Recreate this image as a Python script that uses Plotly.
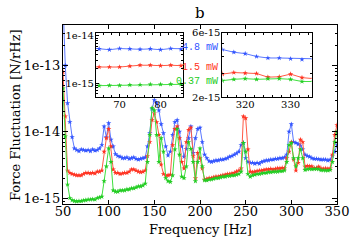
import plotly.graph_objects as go

# frequency grid [Hz]
freq = [50, 52.5, 55, 57.5, 60, 62.5, 65, 67.5, 70, 72.5, 75, 77.5, 80, 82.5, 85, 87.5, 90, 92.5,
        95, 97.5, 100, 102.5, 105, 107.5, 110, 112.5, 115, 117.5, 120, 122.5, 125, 127.5, 130, 132.5,
        135, 137.5, 140, 142.5, 145, 147.5, 150, 152.5, 155, 157.5, 160, 162.5, 165, 167.5, 170, 172.5,
        175, 177.5, 180, 182.5, 185, 187.5, 190, 192.5, 195, 197.5, 200, 202.5, 205, 207.5, 210, 212.5,
        215, 217.5, 220, 222.5, 225, 227.5, 230, 232.5, 235, 237.5, 240, 242.5, 245, 247.5, 250, 252.5,
        255, 257.5, 260, 262.5, 265, 267.5, 270, 272.5, 275, 277.5, 280, 282.5, 285, 287.5, 290, 292.5,
        295, 297.5, 300, 302.5, 305, 307.5, 310, 312.5, 315, 317.5, 320, 322.5, 325, 327.5, 330, 332.5,
        335, 337.5, 340, 342.5, 345, 347.5, 350]

# force fluctuation in units of 1e-15 N/rHz
p_4_8mW = [900, 100, 27, 14, 8.3, 5.6, 5.3, 5.1, 5.4, 5.3, 5.2, 5.3, 5.1, 5.4, 5.2, 5.3, 5.6, 6.3,
           12, 8.3, 13.5, 7.6, 6.0, 4.6, 4.3, 4.2, 4.0, 4.0, 4.1, 3.9, 4.0, 4.1, 3.9, 3.8,
           3.9, 4.0, 4.1, 6.0, 9.5, 22, 30, 27, 21, 13, 9.5, 6.0, 4.4, 5.0, 9.0, 14,
           15, 10, 6.0, 4.2, 5.5, 8.0, 12, 4.8, 8.0, 11, 11.5, 7.0, 4.5, 4.0, 3.6, 3.5,
           3.6, 3.7, 3.7, 3.8, 3.8, 3.9, 4.0, 4.2, 4.3, 4.5, 4.7, 5.0, 6.3, 6.8, 4.0, 3.5,
           3.4, 3.4, 3.3, 3.4, 3.3, 3.5, 3.6, 3.7, 3.7, 3.8, 3.8, 3.9, 3.9, 4.0, 4.0, 4.1,
           4.5, 10, 13, 7.0, 6.8, 6.5, 6.2, 5.4, 4.5, 4.3, 4.2, 4.0, 3.9, 3.9, 3.85, 3.8,
           3.8, 3.8, 3.7, 3.8, 4.3, 5.0, 6.3]

p_1_5mW = [80, 17, 2.6, 2.4, 2.3, 2.25, 2.2, 2.2, 2.2, 2.3, 2.4, 2.4, 2.35, 2.4, 2.35, 2.5, 2.5, 2.6,
           5.0, 8.0, 11, 6.0, 2.7, 2.4, 2.4, 2.3, 2.35, 2.4, 2.4, 2.5, 2.7, 2.7, 2.6, 2.5,
           2.45, 2.5, 2.6, 4.3, 7.0, 15, 19, 14, 9.0, 3.2, 2.3, 2.2, 2.2, 2.25, 6.3, 11,
           12, 8.0, 3.5, 2.8, 7.0, 10.7, 11.5, 4.3, 2.0, 4.8, 4.0, 2.8, 1.9, 1.95, 2.0, 2.0,
           2.05, 2.1, 2.1, 2.15, 2.2, 2.25, 2.3, 2.3, 2.35, 2.4, 2.5, 2.6, 2.8, 17, 16, 5.4,
           2.5, 2.45, 2.5, 2.55, 2.6, 2.6, 2.65, 2.7, 2.7, 2.75, 2.7, 2.75, 2.8, 2.8, 2.85, 2.8,
           4.0, 5.0, 7.0, 3.8, 2.6, 3.4, 7.6, 7.0, 2.97, 3.05, 3.02, 3.0, 2.82, 2.84, 2.97, 2.8,
           2.75, 2.8, 2.75, 2.8, 4.5, 9.0, 12.6]

p_0_37mW = [45, 8.5, 1.6, 1.0, 0.93, 0.9, 0.89, 0.9, 0.9, 0.92, 0.93, 0.95, 0.95, 0.96, 0.95, 1.0, 1.02, 1.05,
            1.8, 3.0, 5.6, 3.5, 1.3, 1.25, 1.25, 1.3, 1.3, 1.3, 1.35, 1.35, 1.4, 1.4, 1.45, 1.5,
            1.5, 1.55, 1.65, 3.5, 9.0, 23, 21, 9.0, 3.5, 8.0, 5.0, 2.0, 1.8, 1.75, 2.2, 5.4,
            11, 4.5, 2.1, 2.0, 3.0, 7.0, 5.5, 3.5, 1.8, 3.5, 5.6, 3.0, 1.85, 1.85, 1.9, 1.9,
            1.95, 2.0, 2.0, 2.05, 2.1, 2.1, 2.15, 2.15, 2.2, 2.2, 2.25, 2.3, 2.5, 6.8, 5.0, 2.3,
            2.1, 2.2, 2.25, 2.3, 2.3, 2.35, 2.4, 2.4, 2.45, 2.45, 2.5, 2.5, 2.5, 2.55, 2.55, 2.6,
            3.5, 6.3, 6.8, 4.0, 3.0, 4.0, 5.4, 4.0, 2.66, 2.72, 2.75, 2.72, 2.75, 2.75, 2.72, 2.62,
            2.62, 2.6, 2.6, 2.65, 3.5, 7.0, 10]

UNIT = 1e-15
series_names = ["4.8 mW", "1.5 mW", "0.37 mW"]
series_vals = [p_4_8mW, p_1_5mW, p_0_37mW]
line_colors = ["#5b78ff", "#ff5a45", "#3fe03f"]
marker_colors = ["#3355ff", "#ff3322", "#22cc22"]

x_ticks = [50, 100, 150, 200, 250, 300, 350]
y_major = [1e-15, 1e-14, 1e-13]
y_major_text = ["1e-15", "1e-14", "1e-13"]

fig = go.Figure()

axes_pairs = [("x", "y"), ("x2", "y2"), ("x3", "y3")]
for xa, ya in axes_pairs:
    for name, vals, lc, mc in zip(series_names, series_vals, line_colors, marker_colors):
        fig.add_trace(go.Scatter(
            x=freq, y=[v * UNIT for v in vals], xaxis=xa, yaxis=ya,
            mode="lines+markers", name=name, showlegend=False,
            line=dict(color=lc, width=1),
            marker=dict(symbol="star", size=4, color=mc, line=dict(width=0)),
        ))

minor_main = [k * 10.0 ** e for e in range(-16, -12) for k in range(2, 10)]
FONT = "DejaVu Serif"

frame = dict(showline=True, linecolor="black", linewidth=1, mirror="ticks",
             ticks="inside", tickcolor="black", showgrid=False, zeroline=False)

fig.update_layout(
    width=354, height=249,
    margin=dict(l=63, r=17, t=25, b=45, autoexpand=False),
    paper_bgcolor="white", plot_bgcolor="white",
    font=dict(family=FONT, size=13, color="black"),
    showlegend=False,
    xaxis=dict(range=[50, 350], tickvals=x_ticks, ticklen=4, tickfont=dict(size=13),
               ticklabelstandoff=-5, **frame),
    yaxis=dict(type="log", range=[-15.09, -12.39], tickvals=y_major, ticktext=y_major_text,
               ticklen=5, tickfont=dict(size=13), ticklabelstandoff=-1,
               minor=dict(tickvals=minor_main, ticks="inside", ticklen=2, tickcolor="black"), **frame),
    xaxis2=dict(domain=[0.120, 0.438], anchor="y2", range=[64.2, 85.5], tickvals=[70, 80],
                ticklen=3, tickfont=dict(size=10), ticklabelstandoff=-2,
                minor=dict(dtick=2, ticks="inside", ticklen=2, tickcolor="black"), **frame),
    yaxis2=dict(domain=[0.595, 0.958], anchor="x2", type="log", range=[-15.3, -13.93],
                tickvals=[1e-15, 1e-14], ticktext=["1e-15", "1e-14"], ticklen=3,
                tickfont=dict(size=10), ticklabelstandoff=-1,
                minor=dict(tickvals=minor_main, ticks="inside", ticklen=2, tickcolor="black"), **frame),
    xaxis3=dict(domain=[0.582, 0.907], anchor="y3", range=[315, 334.6], tickvals=[320, 330],
                ticklen=3, tickfont=dict(size=10), ticklabelstandoff=-2,
                minor=dict(dtick=2, ticks="inside", ticklen=2, tickcolor="black"), **frame),
    yaxis3=dict(domain=[0.595, 0.958], anchor="x3", type="log",
                range=[-14.699, -14.2218], tickvals=[2e-15, 6e-15], ticktext=["2e-15", "6e-15"],
                ticklen=3, tickfont=dict(size=10), ticklabelstandoff=-1,
                minor=dict(tickvals=[3e-15, 4e-15, 5e-15], ticks="inside", ticklen=2, tickcolor="black"),
                **frame),
)

# axis titles and panel label
fig.add_annotation(text="Frequency [Hz]", x=0.5, y=-0.14, xref="paper", yref="paper",
                   showarrow=False, font=dict(size=13, family=FONT), xanchor="center", yanchor="middle")
fig.add_annotation(text="Force Fluctuation [N/rHz]", x=-0.175, y=0.497, xref="paper", yref="paper",
                   showarrow=False, textangle=-90, font=dict(size=13, family=FONT),
                   xanchor="center", yanchor="middle")
fig.add_annotation(text="b", x=0.5, y=1.067, xref="paper", yref="paper", showarrow=False,
                   font=dict(size=15, family=FONT), xanchor="center", yanchor="middle")

# power labels
label_y = [0.872, 0.765, 0.687]
for name, col, ly in zip(series_names, marker_colors, label_y):
    fig.add_annotation(text=name, x=0.572, y=ly, xref="paper", yref="paper", showarrow=False,
                       font=dict(size=10, family="Liberation Mono", color=col),
                       xanchor="right", yanchor="middle")

fig.write_html("out.html", config={"displayModeBar": False},
               post_script="document.body.style.margin='0px';")
